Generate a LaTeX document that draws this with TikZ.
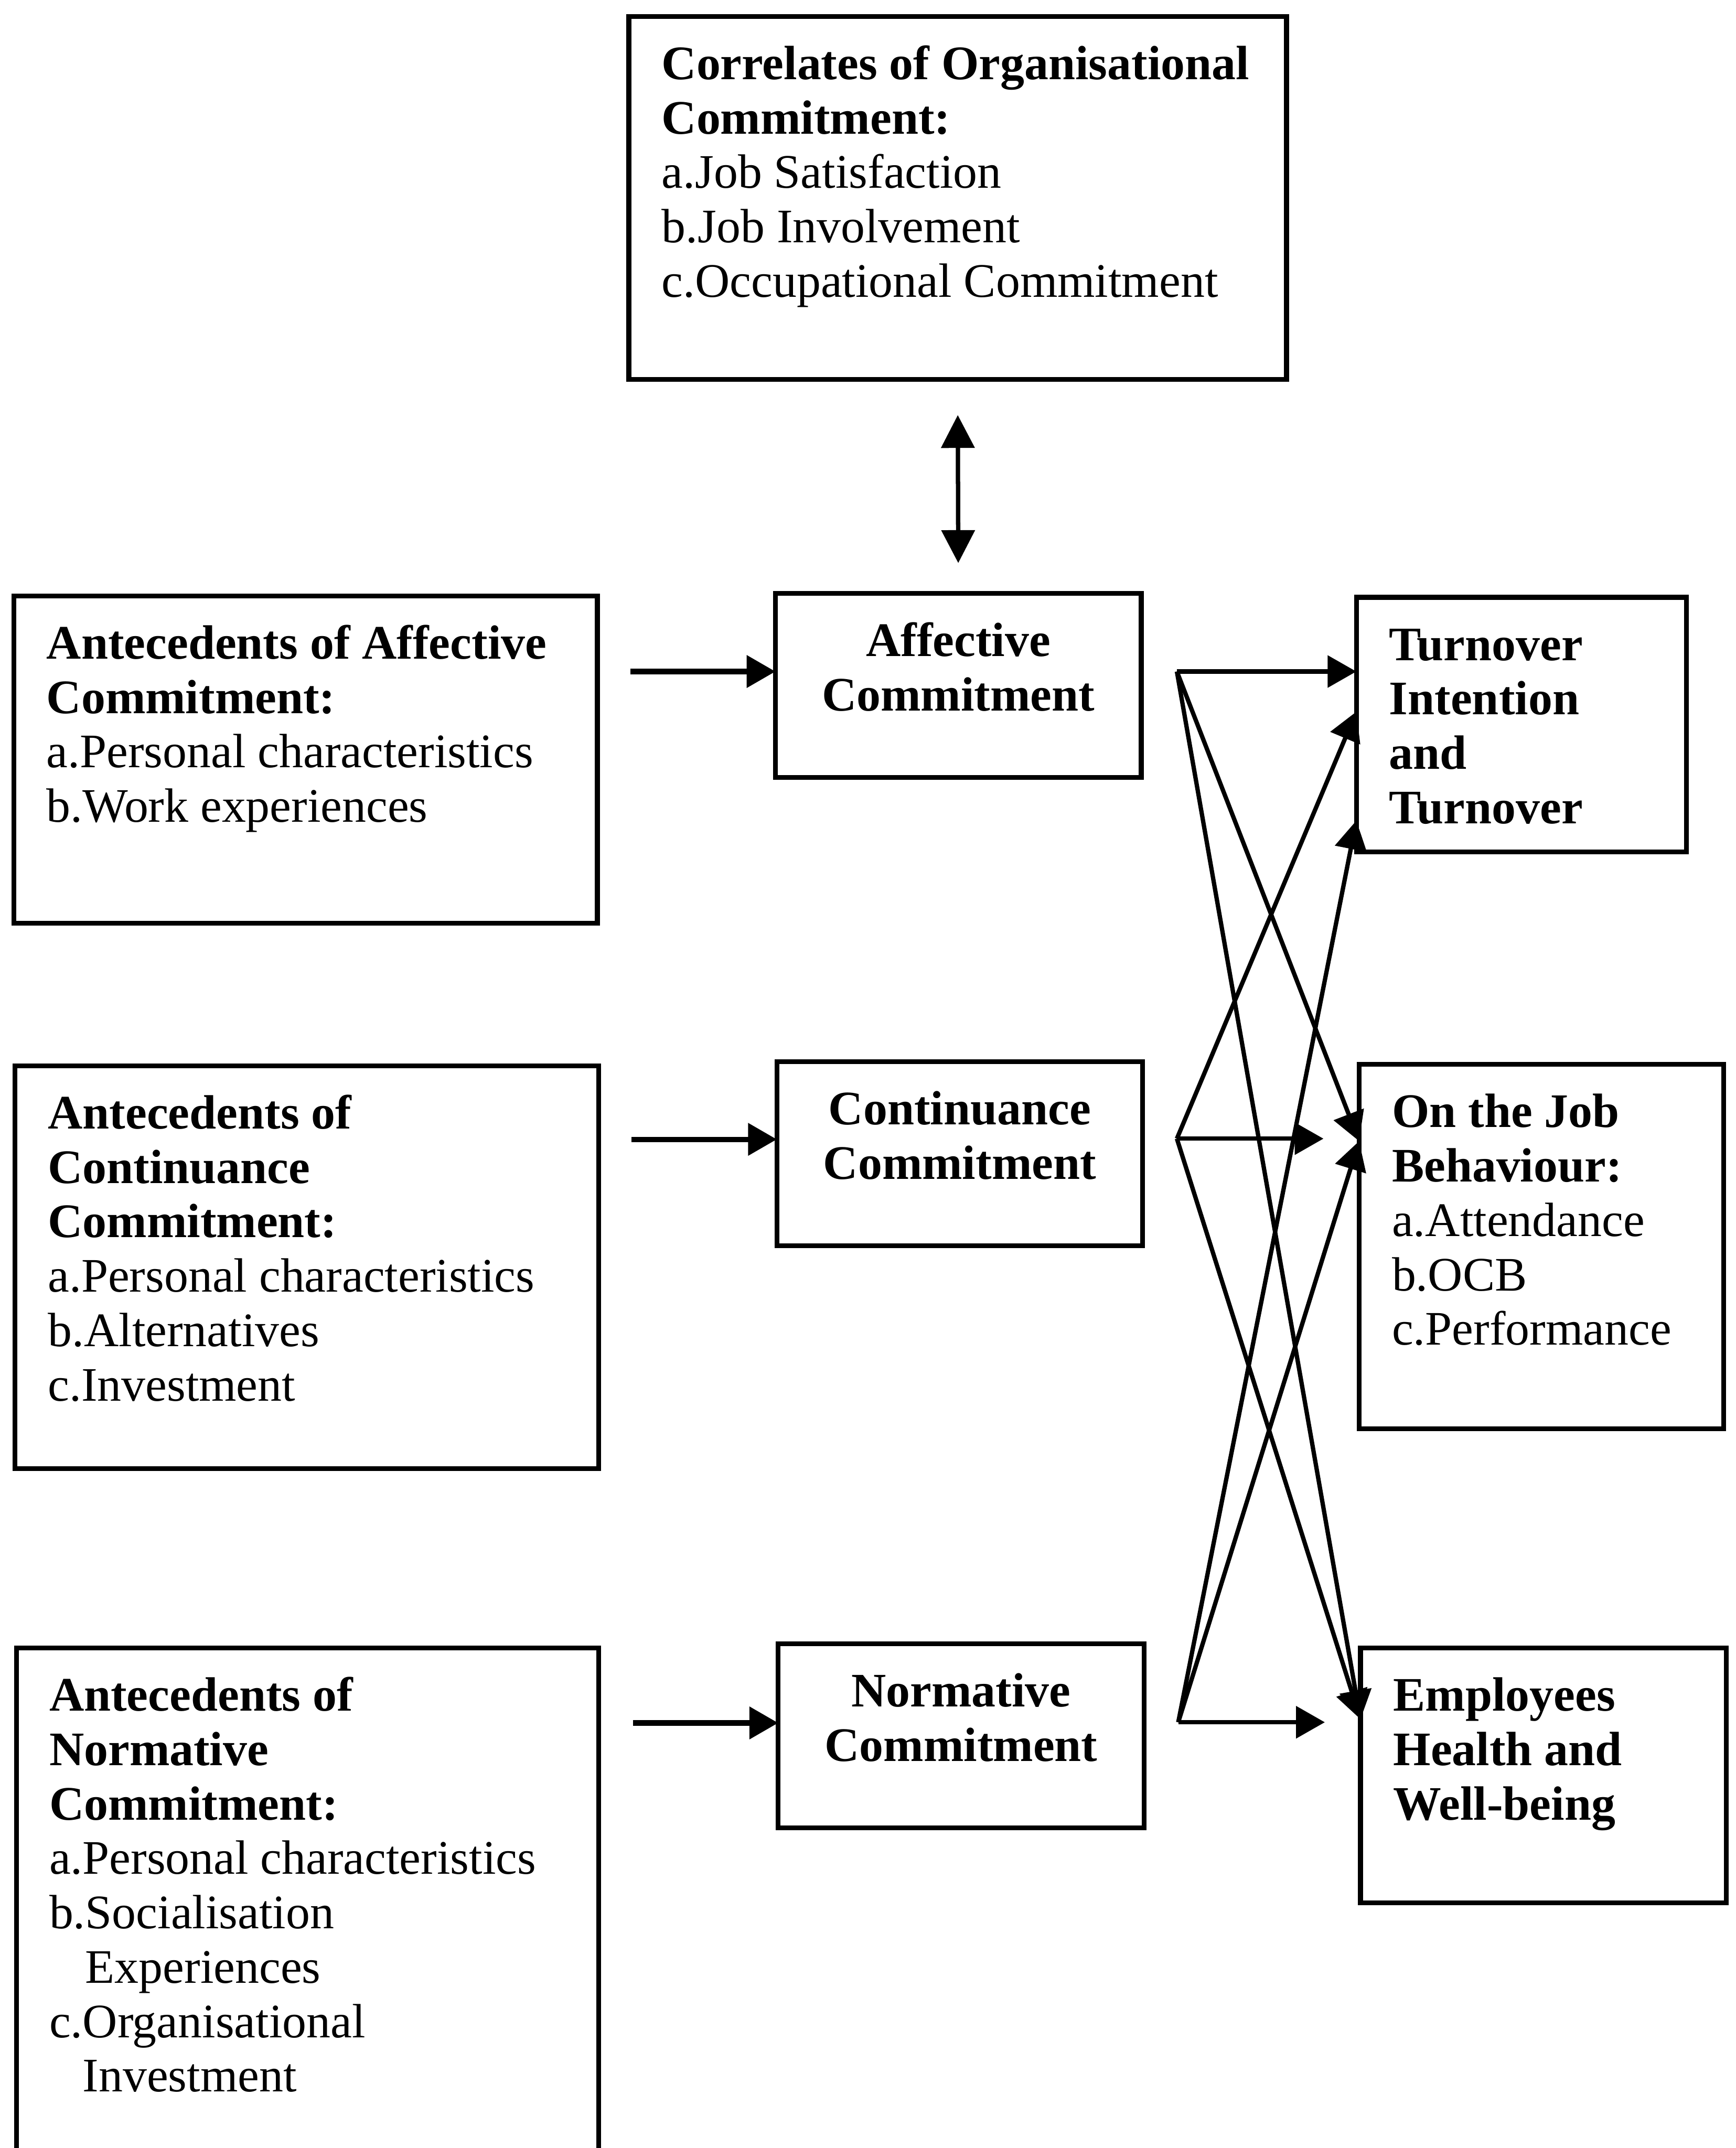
\documentclass[tikz,border=0pt]{standalone}
\usepackage{fontspec}
\setmainfont{Liberation Serif}
\usetikzlibrary{arrows.meta}

\newcommand{\sidetext}[3]{\parbox[t][#2][t]{#1}{\raggedright\strut #3}}
\newcommand{\midtext}[1]{\parbox[t][1.96cm][t]{4.38cm}{\centering\strut\textbf{#1}}}

\begin{document}
\begin{tikzpicture}[>={Triangle[length=0.42cm,width=0.46cm]},
  font=\fontsize{20}{22.6}\selectfont,
  box/.style={draw,line width=2pt,anchor=north west,outer sep=0pt,inner xsep=0.48cm,inner ysep=0.364cm},
  in arrow/.style={->,line width=2.2pt},
  out arrow/.style={->,line width=1.8pt}]
\useasboundingbox (0,0) rectangle (25.34,-31.36);
% top box
\node[box] (corr) at (9.18,-0.24) {\sidetext{8.64cm}{4.572cm}{\textbf{Correlates of Organisational\\Commitment:}\\a.Job Satisfaction\\b.Job Involvement\\c.Occupational Commitment}};
% antecedents
\node[box] (antaff) at (0.2,-8.7) {\sidetext{7.56cm}{4.052cm}{\textbf{Antecedents of Affective\\Commitment:}\\a.Personal characteristics\\b.Work experiences}};
\node[box] (antcont) at (0.22,-15.56) {\sidetext{7.56cm}{5.152cm}{\textbf{Antecedents of\\Continuance\\Commitment:}\\a.Personal characteristics\\b.Alternatives\\c.Investment}};
\node[box] (antnorm) at (0.24,-24.06) {\sidetext{7.54cm}{7.012cm}{\textbf{Antecedents of\\Normative\\Commitment:}\\a.Personal characteristics\\b.Socialisation\\\phantom{b.}Experiences\\c.Organisational\\\phantom{c.}Investment}};
% three components
\node[box] (aff) at (11.32,-8.66) {\midtext{Affective\\Commitment}};
\node[box] (cont) at (11.34,-15.5) {\midtext{Continuance\\Commitment}};
\node[box] (norm) at (11.36,-24.0) {\midtext{Normative\\Commitment}};
% consequences
\node[box] (turn) at (19.8,-8.72) {\sidetext{3.86cm}{2.992cm}{\textbf{Turnover\\Intention\\and\\Turnover}}};
\node[box] (job) at (19.84,-15.54) {\sidetext{4.36cm}{4.592cm}{\textbf{On the Job\\Behaviour:}\\a.Attendance\\b.OCB\\c.Performance}};
\node[box] (emp) at (19.86,-24.06) {\sidetext{4.38cm}{2.992cm}{\textbf{Employees\\Health and\\Well-being}}};

\draw[<->,>={Triangle[length=0.48cm,width=0.48cm]},line width=1.8pt,shorten <=0.52cm,shorten >=0.44cm] (corr.south) -- (aff.north);

\coordinate (ina) at ([yshift=0.2cm]aff.west);
\coordinate (inc) at ([yshift=0.21cm]cont.west);
\coordinate (inn) at ([yshift=0.19cm]norm.west);
\draw[in arrow,shorten <=0.48cm] (antaff.east |- ina) -- (ina);
\draw[in arrow,shorten <=0.48cm] (antcont.east |- inc) -- (inc);
\draw[in arrow,shorten <=0.5cm] (antnorm.east |- inn) -- (inn);

\coordinate (fa) at ([xshift=0.52cm,yshift=0.2cm]aff.east);
\coordinate (fc) at ([xshift=0.5cm,yshift=0.22cm]cont.east);
\coordinate (fn) at ([xshift=0.5cm,yshift=0.2cm]norm.east);
\draw[out arrow] (fa) -- (fa -| turn.west);
\draw[out arrow] (fa) -- ([yshift=-1.12cm]job.north west);
\draw[out arrow] (fa) -- ([yshift=-1.04cm]emp.north west);
\draw[out arrow] (fc) -- ([yshift=-1.67cm]turn.north west);
\draw[out arrow,shorten >=0.52cm] (fc) -- (fc -| job.west);
\draw[out arrow] (fc) -- ([yshift=-1.04cm]emp.north west);
\draw[out arrow] (fn) -- ([yshift=0.46cm]turn.south west);
\draw[out arrow] (fn) -- ([yshift=-1.12cm]job.north west);
\draw[out arrow,shorten >=0.52cm] (fn) -- (fn -| emp.west);
\end{tikzpicture}
\end{document}
